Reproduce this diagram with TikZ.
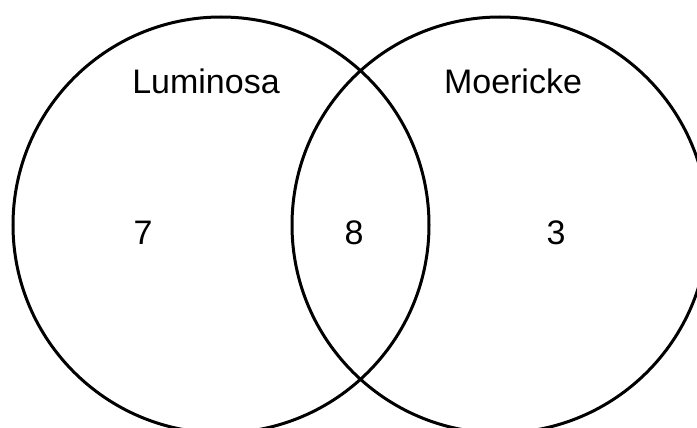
\documentclass[tikz,border=0pt]{standalone}
\usepackage{fontspec}
\setmainfont{Liberation Sans}
\begin{document}
\begin{tikzpicture}[x=1pt,y=-1pt,
  setcircle/.style={draw=black,line width=3pt,circle,minimum size=416pt,inner sep=0pt},
  lbl/.style={font=\fontsize{34}{40}\selectfont,inner sep=0pt,anchor=base}]
\useasboundingbox[fill=white] (0,0) rectangle (697,428);
\begin{scope}
\clip (0,0) rectangle (697,428);
\node[setcircle] (L) at (221,225) {};
\node[setcircle] (M) at (500,225) {};
\end{scope}
\node[lbl] (tL) at (206,94) {Luminosa};
\node[lbl] (tM) at (513,94) {Moericke};
\node[lbl] (n7) at (143,244) {7};
\node[lbl] (n8) at (354,244) {8};
\node[lbl] (n3) at (556,244) {3};
\end{tikzpicture}
\end{document}
